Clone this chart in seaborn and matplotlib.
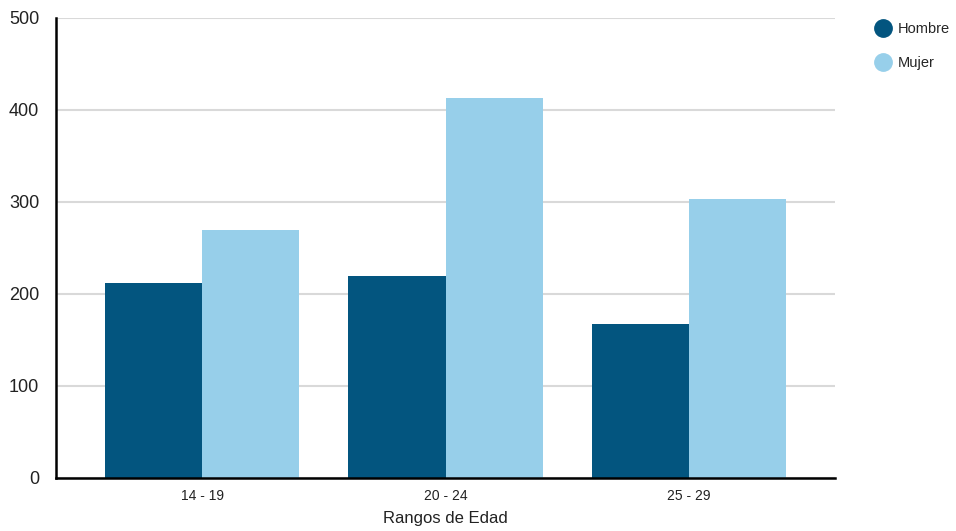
import matplotlib
matplotlib.use('Agg')
import matplotlib.pyplot as plt
import seaborn as sns
import pandas as pd
from matplotlib.lines import Line2D

# Data
rangos = ['14 - 19', '20 - 24', '25 - 29']
hombre = [212, 220, 167]
mujer = [270, 413, 303]
series = ['Hombre', 'Mujer']
colores = ['#03557f', '#97cfea']
yticks = [0, 100, 200, 300, 400, 500]

sns.set_theme(style='white')
plt.rcParams['font.family'] = ['Liberation Sans', 'DejaVu Sans']

df = pd.DataFrame({
    'rango': rangos * 2,
    'sexo': ['Hombre'] * len(rangos) + ['Mujer'] * len(rangos),
    'valor': hombre + mujer,
})

fig = plt.figure(figsize=(9.56, 5.31), dpi=100)
ax = fig.add_axes([56 / 956, 1 - 478 / 531, (835 - 56) / 956, (478 - 18) / 531])

sns.barplot(data=df, x='rango', y='valor', hue='sexo', palette=colores,
            hue_order=series, width=0.8, saturation=1, ax=ax, legend=False,
            edgecolor='none', zorder=3)

ax.set_xlim(-0.6, 2.6)
ax.set_ylim(0, 500)
ax.set_yticks(yticks)
ax.yaxis.grid(True, color='#d9d9d9', linewidth=1.5, zorder=0)
ax.set_axisbelow(True)
for s in ['top', 'right']:
    ax.spines[s].set_visible(False)
ax.spines['left'].set_color('black')
ax.spines['left'].set_linewidth(1.8)
ax.spines['bottom'].set_color('black')
ax.spines['bottom'].set_linewidth(1.8)
ax.spines['bottom'].set_zorder(5)
ax.tick_params(axis='y', length=0, labelsize=13, colors='#222222', pad=12)
ax.tick_params(axis='x', length=0, labelsize=10, colors='#222222', pad=8)
ax.set_ylabel('')
ax.set_xlabel('Rangos de Edad', fontsize=12, color='#222222', labelpad=6)

handles = [Line2D([0], [0], marker='o', linestyle='none', markersize=12.5,
                  markerfacecolor=c, markeredgecolor=c) for c in colores]
fig.legend(handles, series, loc='upper left', bbox_to_anchor=(870 / 956, 1 - 16 / 531),
           frameon=False, fontsize=10.5, handletextpad=0.5, labelspacing=1.4,
           borderaxespad=0, handlelength=1.0)

fig.savefig('out.png', dpi=100)
